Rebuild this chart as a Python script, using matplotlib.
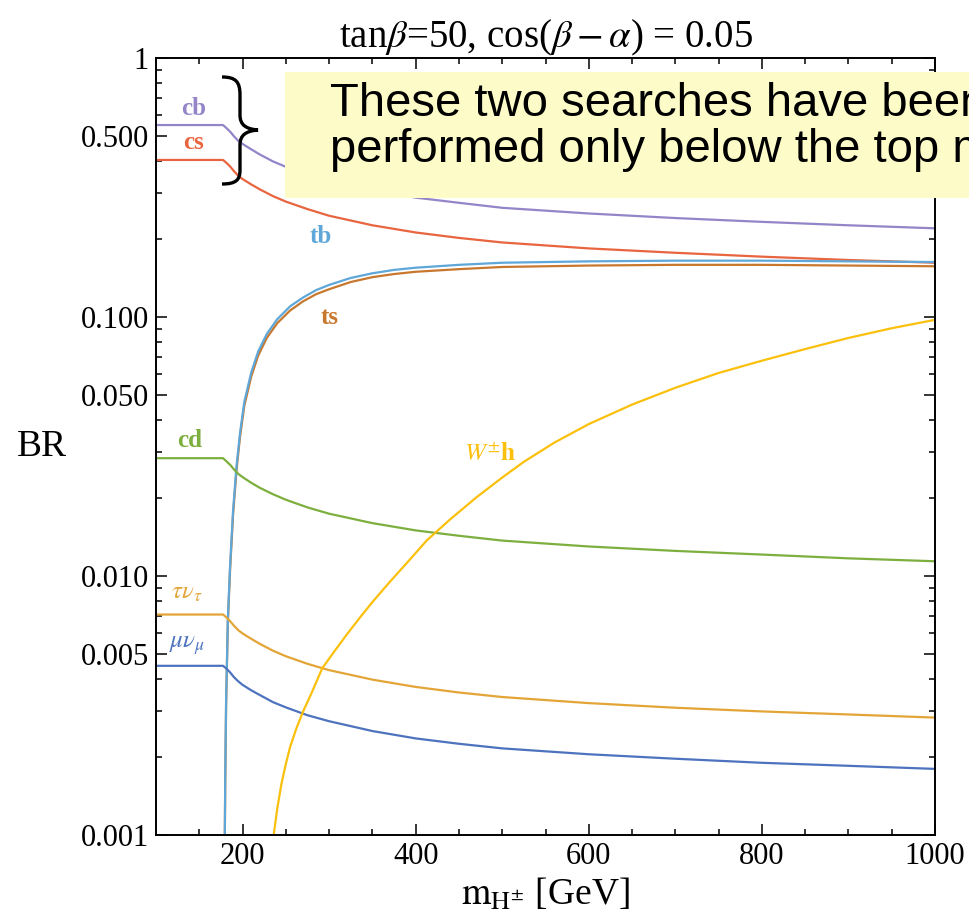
"""
Charged Higgs branching ratios vs mass (tanb=50, cos(b-a)=0.05).
"""

import matplotlib
matplotlib.use("Agg")
import matplotlib.pyplot as plt
from matplotlib.path import Path
from matplotlib.patches import PathPatch, Rectangle
from matplotlib.ticker import FixedLocator, NullFormatter

plt.rcParams["font.family"] = ["Liberation Serif", "DejaVu Serif"]
plt.rcParams["mathtext.fontset"] = "stix"

# light-fermion channels share one mass grid
mass = [100, 177.5, 182, 186, 190, 195, 200, 210, 220, 235, 250, 275, 300,
        350, 400, 450, 500, 600, 700, 800, 900, 1000]
br_cb = [0.551, 0.551, 0.534, 0.518, 0.499, 0.479, 0.466, 0.444, 0.424, 0.399, 0.380,
         0.355, 0.336, 0.309, 0.289, 0.276, 0.264, 0.251, 0.241, 0.233, 0.226, 0.220]
br_cs = [0.404, 0.404, 0.392, 0.380, 0.366, 0.351, 0.341, 0.325, 0.311, 0.293, 0.279,
         0.261, 0.246, 0.226, 0.212, 0.202, 0.194, 0.184, 0.177, 0.171, 0.166, 0.162]
br_cd = [0.0285, 0.0285, 0.0276, 0.0268, 0.0258, 0.0248, 0.0241, 0.0229, 0.0219, 0.0207,
         0.0197, 0.0184, 0.0174, 0.0160, 0.0150, 0.0143, 0.0137, 0.0130, 0.0125, 0.0121,
         0.0117, 0.0114]
br_taunu = [0.0071, 0.0071, 0.00689, 0.00667, 0.00643, 0.00618, 0.0060, 0.00572, 0.00547,
            0.00515, 0.0049, 0.00458, 0.00433, 0.00398, 0.00373, 0.00355, 0.00341,
            0.00323, 0.0031, 0.0030, 0.00292, 0.00284]
br_munu = [0.0045, 0.0045, 0.00437, 0.00423, 0.00407, 0.00392, 0.0038, 0.00362, 0.00347,
           0.00326, 0.00311, 0.0029, 0.00275, 0.00252, 0.00236, 0.00225, 0.00216,
           0.00205, 0.00197, 0.0019, 0.00185, 0.0018]

# top channels open at threshold
top_mass = [178.3, 179, 179.5, 180, 181, 183, 185.5, 189, 193, 197, 202, 210, 218, 228,
            240, 255, 270, 285, 300, 325, 350, 375, 400, 450, 500, 600, 700, 800, 900, 1000]
br_tb = [1e-5, 0.0004, 0.001, 0.0017, 0.0033, 0.0068, 0.0108, 0.0178, 0.0265, 0.0355,
         0.047, 0.061, 0.0735, 0.086, 0.098, 0.110, 0.119, 0.127, 0.133, 0.1415, 0.1475,
         0.152, 0.155, 0.159, 0.162, 0.164, 0.165, 0.165, 0.164, 0.163]
br_ts = [1e-5, 0.0004, 0.00097, 0.0016, 0.0032, 0.0066, 0.0104, 0.0172, 0.0256, 0.0343,
         0.0454, 0.0589, 0.0709, 0.083, 0.0946, 0.106, 0.115, 0.1225, 0.128, 0.1365, 0.1425,
         0.1465, 0.1495, 0.153, 0.156, 0.158, 0.159, 0.159, 0.158, 0.157]

wh_mass = [228, 232, 236, 240, 245, 250, 255, 262, 270, 280, 292, 305, 320, 335, 350,
           370, 390, 413, 440, 470, 500, 525, 560, 600, 650, 700, 750, 800, 850, 900,
           950, 1000]
br_wh = [1e-5, 0.0005, 0.001, 0.00126, 0.00158, 0.00188, 0.00219, 0.00257, 0.0030,
         0.00355, 0.0044, 0.00506, 0.00592, 0.00687, 0.00793, 0.00948, 0.01125, 0.01374,
         0.01656, 0.0201, 0.0240, 0.0276, 0.0327, 0.0386, 0.0459, 0.0533, 0.0608, 0.0678,
         0.0752, 0.0830, 0.0905, 0.0975]

y_ticks = [0.001, 0.005, 0.010, 0.050, 0.100, 0.500, 1]
y_tick_labels = ["0.001", "0.005", "0.010", "0.050", "0.100", "0.500", "1"]
x_ticks = [200, 400, 600, 800, 1000]

colors = {
    "cb": "#9385c8", "cs": "#e8653f", "tb": "#5ea7d8", "ts": "#c7782e",
    "cd": "#7daf3e", "taunu": "#e3a537", "munu": "#4d73bf", "wh": "#fbc00c",
}

W, H = 970, 923
fig = plt.figure(figsize=(W / 100, H / 100), dpi=100)
ax = fig.add_axes([156 / W, 1 - 835 / H, (935 - 156) / W, (835 - 58) / H])

lw = 1.6
ax.plot(mass, br_cb, color=colors["cb"], lw=lw)
ax.plot(mass, br_cs, color=colors["cs"], lw=lw)
ax.plot(top_mass, br_ts, color=colors["ts"], lw=lw)
ax.plot(top_mass, br_tb, color=colors["tb"], lw=lw)
ax.plot(mass, br_cd, color=colors["cd"], lw=lw)
ax.plot(mass, br_taunu, color=colors["taunu"], lw=lw)
ax.plot(mass, br_munu, color=colors["munu"], lw=lw)
ax.plot(wh_mass, br_wh, color=colors["wh"], lw=lw)

ax.set_yscale("log")
ax.set_xlim(100, 1000)
ax.set_ylim(0.001, 1)

ax.yaxis.set_major_locator(FixedLocator(y_ticks))
ax.set_yticklabels(y_tick_labels)
minor_y = [k * 10.0 ** e for e in (-3, -2, -1) for k in range(2, 10) if k != 5]
ax.yaxis.set_minor_locator(FixedLocator(minor_y))
ax.yaxis.set_minor_formatter(NullFormatter())
ax.xaxis.set_major_locator(FixedLocator(x_ticks))
ax.xaxis.set_minor_locator(FixedLocator([m for m in range(150, 1000, 50) if m % 200]))

ax.tick_params(which="both", direction="in", top=True, right=True, width=1.1)
ax.tick_params(which="major", length=8, labelsize=22, pad=5)
ax.tick_params(which="minor", length=4.5)
for s in ax.spines.values():
    s.set_linewidth(1.4)

ax.set_title(r"tan$\beta$=50, cos($\beta-\alpha$) = 0.05", fontsize=28, pad=7)
ax.set_xlabel(r"$\mathrm{m}_{\mathrm{H}^{\pm}}$ [GeV]", fontsize=27, labelpad=4)
fig.text(42 / W, 1 - 447 / H, "BR", fontsize=27, ha="center", va="center")

# curve labels
lab = dict(fontsize=18, fontweight="bold", ha="center", va="center")
ax.text(143, 0.64, "cb", color=colors["cb"], **lab)
ax.text(143, 0.47, "cs", color=colors["cs"], **lab)
ax.text(290, 0.205, "tb", color=colors["tb"], **lab)
ax.text(301, 0.1, "ts", color=colors["ts"], **lab)
ax.text(139, 0.0335, "cd", color=colors["cd"], **lab)
ax.text(486, 0.0295, r"$W^{\pm}$h", color=colors["wh"], **lab)
ax.text(136, 0.0086, r"$\tau\nu_\tau$", color=colors["taunu"], fontsize=18,
        ha="center", va="center")
ax.text(136, 0.0054, r"$\mu\nu_\mu$", color=colors["munu"], fontsize=18,
        ha="center", va="center")

# yellow note box (runs off the right edge like the original slide)
fig.patches.append(Rectangle((285 / W, 1 - 198 / H), 800 / W, 126 / H,
                             transform=fig.transFigure, facecolor="#fdfcc9",
                             edgecolor="none", zorder=3))
fig.text(330 / W, 1 - 104 / H, "These two searches have been",
         family="Liberation Sans", fontsize=34, va="center", zorder=4)
fig.text(330 / W, 1 - 150 / H, "performed only below the top mass",
         family="Liberation Sans", fontsize=34, va="center", zorder=4)

# curly brace next to cb / cs
pts = [(222, 77), (236, 77), (240, 82), (240, 95),
       (240, 115),
       (240, 125), (246, 129), (258, 130),
       (246, 131), (240, 135), (240, 145),
       (240, 170),
       (240, 180), (236, 184), (222, 184)]
codes = [Path.MOVETO, Path.CURVE4, Path.CURVE4, Path.CURVE4, Path.LINETO,
         Path.CURVE4, Path.CURVE4, Path.CURVE4, Path.CURVE4, Path.CURVE4, Path.CURVE4,
         Path.LINETO, Path.CURVE4, Path.CURVE4, Path.CURVE4]
brace = Path([(x / W, 1 - y / H) for x, y in pts], codes)
fig.patches.append(PathPatch(brace, transform=fig.transFigure, facecolor="none",
                             edgecolor="black", lw=2.4, zorder=5))

fig.savefig("out.png", dpi=100)
